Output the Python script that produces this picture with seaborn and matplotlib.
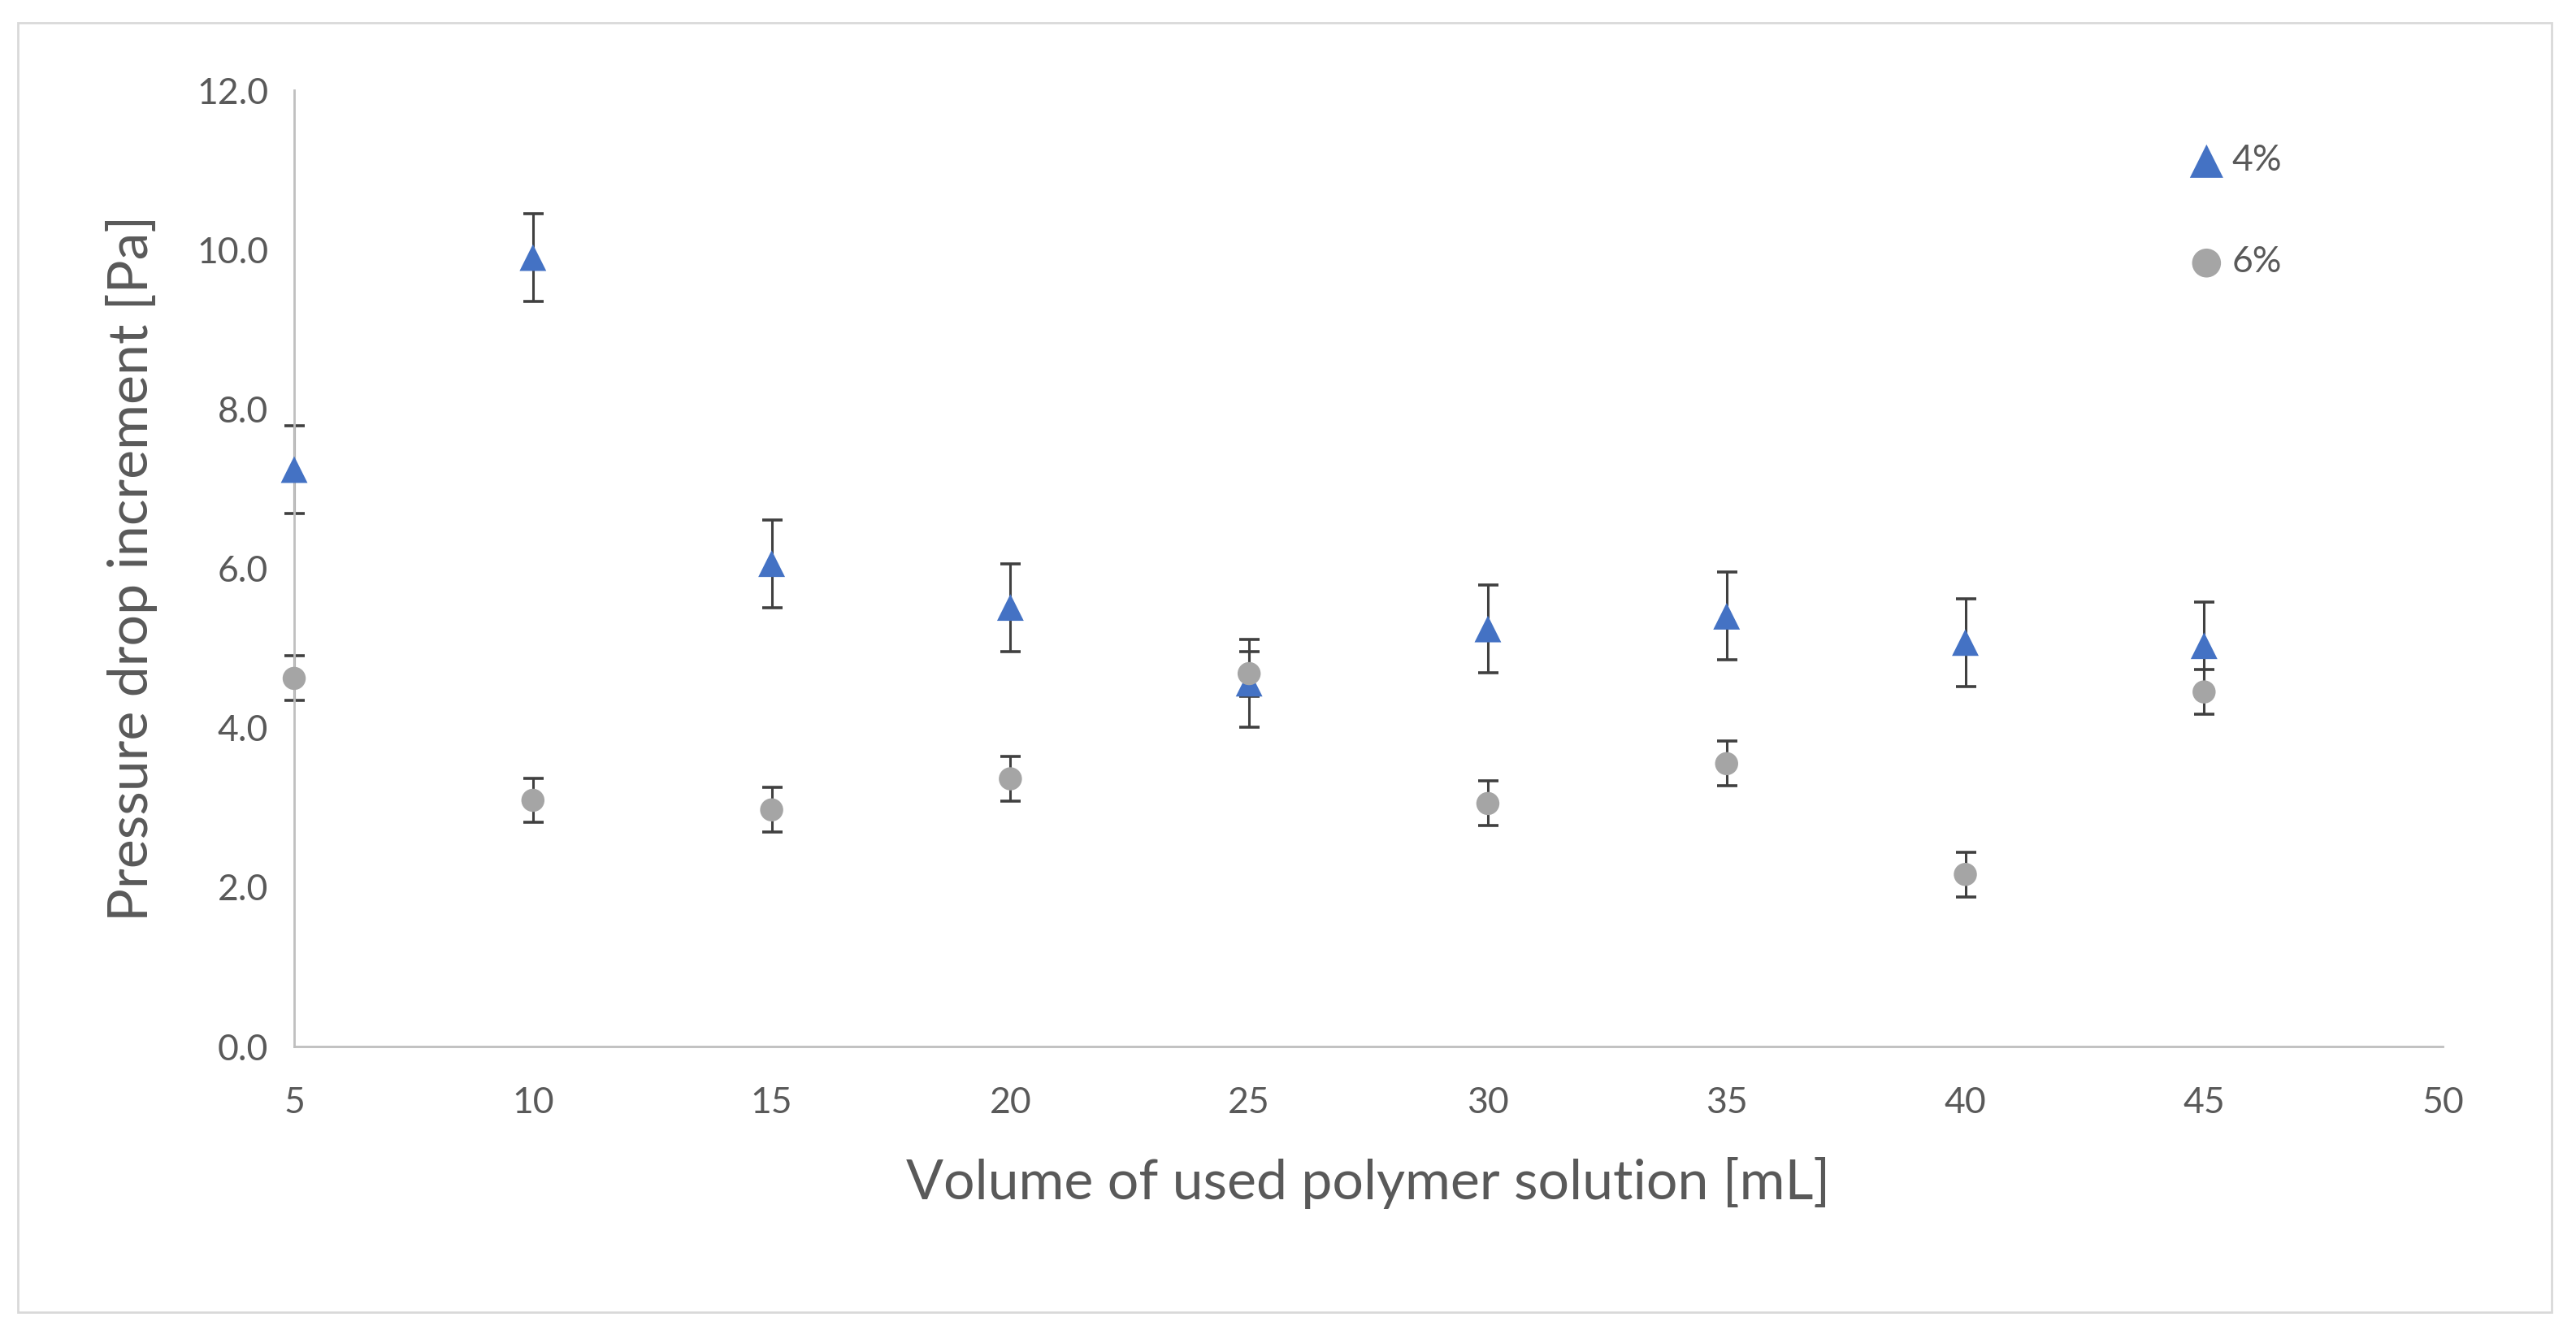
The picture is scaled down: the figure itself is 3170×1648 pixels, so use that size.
import matplotlib
matplotlib.use("Agg")
import matplotlib.pyplot as plt
import seaborn as sns
import pandas as pd
from matplotlib.patches import Rectangle

# данные
volume = [5, 10, 15, 20, 25, 30, 35, 40, 45]
dp_4 = [7.24, 9.90, 6.06, 5.51, 4.56, 5.24, 5.40, 5.07, 5.03]
dp_6 = [4.62, 3.09, 2.97, 3.36, 4.68, 3.05, 3.55, 2.16, 4.45]
err_4 = [0.55] * 9
err_6 = [0.28] * 9
series_names = ["4%", "6%"]
y_ticks = [0, 2, 4, 6, 8, 10, 12]
x_ticks = [5, 10, 15, 20, 25, 30, 35, 40, 45, 50]

blue = "#4472C4"
grey = "#A5A5A5"
text_col = "#595959"
axis_col = "#BFBFBF"

sns.set_theme(style="white")
plt.rcParams["font.family"] = ["Lato", "DejaVu Sans"]

df = pd.concat([
    pd.DataFrame({"x": volume, "y": dp_4, "err": err_4, "conc": series_names[0]}),
    pd.DataFrame({"x": volume, "y": dp_6, "err": err_6, "conc": series_names[1]}),
])

fig = plt.figure(figsize=(31.70, 16.48), dpi=100)
ax = fig.add_axes([0.1142, 0.2184, 0.8341, 0.7142])

# рамка вокруг всей диаграммы, как в Excel
fig.patches.append(Rectangle((22 / 3170, 1 - 1615 / 1648), (3140 - 22) / 3170, (1615 - 28) / 1648,
                             transform=fig.transFigure, fill=False, edgecolor="#D9D9D9", linewidth=2))

colors = {"4%": blue, "6%": grey}
markers = {"4%": "^", "6%": "o"}
sizes = {"4%": 560, "6%": 420}
for name in series_names:
    sub = df[df["conc"] == name]
    eb = ax.errorbar(sub["x"], sub["y"], yerr=sub["err"], fmt="none", ecolor="#404040",
                     elinewidth=2.2, capsize=9, capthick=2.6, zorder=2)
    for art in eb.lines[1] + eb.lines[2]:
        art.set_clip_on(False)
    sns.scatterplot(data=sub, x="x", y="y", ax=ax, color=colors[name], marker=markers[name],
                    s=sizes[name], edgecolor="none", label=name, zorder=3, clip_on=False)

ax.set_xlim(5, 50)
ax.set_ylim(0, 12)
ax.set_xticks(x_ticks)
ax.set_yticks(y_ticks)
ax.set_yticklabels([f"{v:.1f}" for v in y_ticks])
ax.tick_params(axis="both", colors=axis_col, labelcolor=text_col, labelsize=32,
               length=9, width=2, direction="out")
ax.tick_params(axis="x", pad=26)
ax.tick_params(axis="y", pad=14)

for side in ["top", "right"]:
    ax.spines[side].set_visible(False)
for side in ["left", "bottom"]:
    ax.spines[side].set_color(axis_col)
    ax.spines[side].set_linewidth(2)

ax.set_xlabel("Volume of used polymer solution [mL]", fontsize=49, color=text_col)
ax.set_ylabel("Pressure drop increment [Pa]", fontsize=49, color=text_col)
ax.xaxis.set_label_coords(0.5, -0.143)
ax.xaxis.label.set_va("center")
ax.yaxis.set_label_coords(-0.0756, 0.5)
ax.yaxis.label.set_va("center")

leg = ax.legend(loc="upper left", bbox_to_anchor=(0.8665, 0.978), frameon=False, fontsize=32,
                labelcolor=text_col, handlelength=1.0, handletextpad=0.2, labelspacing=1.9,
                markerscale=1.25)

fig.savefig("out.png", dpi=100, facecolor="white")
